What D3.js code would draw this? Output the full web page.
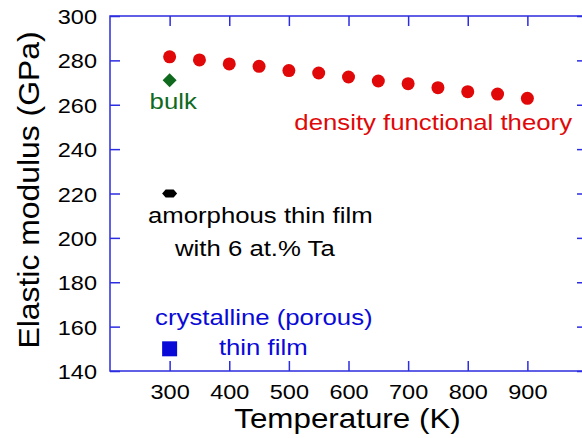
<!DOCTYPE html>
<html>
<head>
<meta charset="utf-8">
<script src="https://cdn.jsdelivr.net/npm/d3@7"></script>
<style>
  body { margin: 0; background: #fff; }
  svg { display: block; font-family: "Liberation Sans", Arial, sans-serif; }
</style>
</head>
<body>
<svg width="582" height="438"></svg>
<script>
// data
var dftT = [300, 350, 400, 450, 500, 550, 600, 650, 700, 750, 800, 850, 900];
var dftE = [281.6, 280.2, 278.4, 277.3, 275.4, 274.3, 272.5, 270.7, 269.5, 267.7, 265.9, 264.8, 262.9];
var bulkT = [300], bulkE = [271];
var amorphT = [300], amorphE = [220];
var crystT = [300], crystE = [150];

var xTicks = [300, 400, 500, 600, 700, 800, 900];
var yTicks = [140, 160, 180, 200, 220, 240, 260, 280, 300];

var red = "#e00808", green = "#0f6a1e", blue = "#0a0ad8", axisBlue = "#2c2ce0";
var SX = 1.12; // text in the original is a bit wider than Arial

var svg = d3.select("svg"),
    margin = {top: 16, left: 110},
    width = 477,
    height = 355,
    g = svg.append("g").attr("transform", "translate(" + margin.left + "," + margin.top + ")");

var x = d3.scaleLinear().domain([200, 1000]).range([0, width]);
var y = d3.scaleLinear().domain([140, 300]).range([height, 0]);

// widen text horizontally around its anchor
function widen(sel) {
  sel.each(function() {
    var t = d3.select(this),
        tx = +t.attr("x") || 0,
        ty = +t.attr("y") || 0;
    t.attr("x", 0).attr("y", 0)
     .attr("transform", "translate(" + tx + "," + ty + ") scale(" + SX + ",1)");
  });
}

// axes (ticks point inward)
var gx = g.append("g")
    .attr("transform", "translate(0," + height + ")")
    .call(d3.axisBottom(x).tickValues(xTicks).tickSize(-10).tickSizeOuter(0).tickPadding(13));
var gy = g.append("g")
    .call(d3.axisLeft(y).tickValues(yTicks).tickSize(-10).tickSizeOuter(0).tickPadding(13));
var gt = g.append("g")
    .call(d3.axisTop(x).tickValues(xTicks).tickSize(-10).tickSizeOuter(0).tickFormat(""));
var gr = g.append("g")
    .attr("transform", "translate(" + width + ",0)")
    .call(d3.axisRight(y).tickValues(yTicks).tickSize(-10).tickSizeOuter(0).tickFormat(""));

[gx, gy, gt, gr].forEach(function(a) {
  a.select(".domain").remove();
  a.selectAll(".tick line").attr("stroke", axisBlue).attr("stroke-width", 1.5);
  a.selectAll(".tick text").attr("fill", "#000").style("font-size", "21px").attr("font-family", null);
});
widen(gx.selectAll(".tick text"));
widen(gy.selectAll(".tick text"));
gy.selectAll(".tick text").attr("dy", "0.36em");

g.append("rect")
    .attr("x", 0).attr("y", 0)
    .attr("width", width).attr("height", height)
    .attr("fill", "none")
    .attr("stroke", axisBlue)
    .attr("stroke-width", 1.5);

// axis titles
svg.append("text")
    .attr("x", margin.left + width / 2 - 1).attr("y", 428)
    .attr("text-anchor", "middle")
    .style("font-size", "28px")
    .attr("fill", "#000")
    .text("Temperature (K)")
    .call(widen);

svg.append("text")
    .attr("transform", "translate(39,190) rotate(-90) scale(1.1,1)")
    .attr("text-anchor", "middle")
    .style("font-size", "29px")
    .attr("fill", "#000")
    .text("Elastic modulus (GPa)");

// density functional theory points
g.selectAll(".dft")
  .data(dftT)
  .enter().append("circle")
    .attr("class", "dft")
    .attr("cx", function(d) { return x(d); })
    .attr("cy", function(d, i) { return y(dftE[i]); })
    .attr("r", 6.5)
    .attr("fill", red);

// bulk (diamond)
g.selectAll(".bulk")
  .data(bulkT)
  .enter().append("path")
    .attr("class", "bulk")
    .attr("d", d3.symbol().type(d3.symbolSquare).size(98))
    .attr("transform", function(d, i) { return "translate(" + x(d) + "," + y(bulkE[i]) + ") rotate(45)"; })
    .attr("fill", green);

// amorphous thin film (flat hexagon)
var flatHex = {
  draw: function(ctx, size) {
    var w = 7.5, h = 4, c = 3.5;
    ctx.moveTo(-w, 0);
    ctx.lineTo(-w + c, -h);
    ctx.lineTo(w - c, -h);
    ctx.lineTo(w, 0);
    ctx.lineTo(w - c, h);
    ctx.lineTo(-w + c, h);
    ctx.closePath();
  }
};
g.selectAll(".amorph")
  .data(amorphT)
  .enter().append("path")
    .attr("class", "amorph")
    .attr("d", d3.symbol().type(flatHex))
    .attr("transform", function(d, i) { return "translate(" + x(d) + "," + y(amorphE[i]) + ")"; })
    .attr("fill", "#000");

// crystalline thin film (square)
g.selectAll(".cryst")
  .data(crystT)
  .enter().append("path")
    .attr("class", "cryst")
    .attr("d", d3.symbol().type(d3.symbolSquare).size(225))
    .attr("transform", function(d, i) { return "translate(" + x(d) + "," + y(crystE[i]) + ")"; })
    .attr("fill", blue);

// annotations, anchored in data units
function note(T, E, txt, color) {
  g.append("text")
    .attr("x", x(T)).attr("y", y(E))
    .attr("text-anchor", "middle")
    .style("font-size", "23px")
    .attr("fill", color)
    .text(txt)
    .call(widen);
}
note(306, 258.2, "bulk", green);
note(742, 248.4, "density functional theory", red);
note(452, 206.8, "amorphous thin film", "#000");
note(443, 192, "with 6 at.% Ta", "#000");
note(458, 160.6, "crystalline (porous)", blue);
note(457, 147.2, "thin film", blue);
</script>
</body>
</html>
